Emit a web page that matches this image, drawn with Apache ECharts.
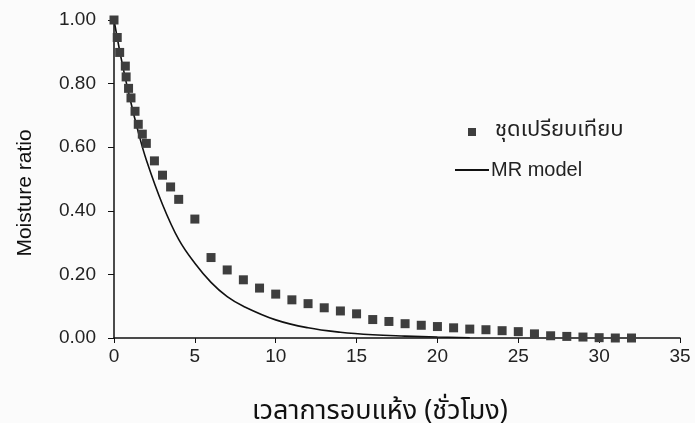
<!DOCTYPE html>
<html><head><meta charset="utf-8">
<script src="https://cdn.jsdelivr.net/npm/echarts@6/dist/echarts.min.js"></script>
<style>html,body{margin:0;padding:0;background:#fbfbfb;}#c{width:695px;height:423px;}</style>
</head><body><div id="c"></div>
<script>
// observed data (ชุดเปรียบเทียบ)
var obsTime = [0, 0.2, 0.35, 0.7, 0.75, 0.9, 1.05, 1.3, 1.5, 1.75, 2, 2.5, 3, 3.5, 4, 5, 6, 7, 8, 9, 10, 11, 12, 13, 14, 15, 16, 17, 18, 19, 20, 21, 22, 23, 24, 25, 26, 27, 28, 29, 30, 31, 32];
var obsMR   = [1.00, 0.945, 0.898, 0.855, 0.821, 0.785, 0.755, 0.713, 0.672, 0.641, 0.612, 0.557, 0.512, 0.475, 0.436, 0.374, 0.253, 0.214, 0.183, 0.157, 0.138, 0.120, 0.108, 0.095, 0.085, 0.076, 0.058, 0.052, 0.045, 0.040, 0.036, 0.032, 0.028, 0.026, 0.023, 0.020, 0.013, 0.007, 0.005, 0.003, 0.001, 0.0, 0.0];
// model curve (MR model)
var modelTime = [0, 0.5, 1, 1.5, 2, 3, 4, 5, 6, 7, 8, 10, 12, 14, 16, 18, 20, 22];
var modelMR   = [1.00, 0.865, 0.75, 0.648, 0.56, 0.42, 0.31, 0.235, 0.175, 0.13, 0.10, 0.057, 0.032, 0.018, 0.010, 0.006, 0.003, 0.001];
var yTicks = [0, 0.2, 0.4, 0.6, 0.8, 1.0];
var xTicks = [0, 5, 10, 15, 20, 25, 30, 35];

var thaiFont = '"Noto Sans Thai","Noto Sans","DejaVu Sans","Liberation Sans",sans-serif';
var latin = '"Liberation Sans",Arial,sans-serif';
var chart = echarts.init(document.getElementById('c'));
chart.setOption({
  backgroundColor: '#fbfbfb',
  animation: false,
  grid: {left: 114, right: 15, top: 20, bottom: 85, containLabel: false, outerBoundsMode: 'none'},
  legend: [
    {left: 463, top: 116, itemWidth: 8, itemHeight: 8, icon: 'rect',
     data: ['ชุดเปรียบเทียบ'],
     textStyle: {fontSize: 22, color: '#222', fontFamily: thaiFont, padding: [0,0,0,14]}},
    {left: 449, top: 155, itemWidth: 34, itemHeight: 2,
     data: ['MR model'],
     textStyle: {fontSize: 20, color: '#222', fontFamily: latin, padding: [0,0,0,-3]}}
  ],
  xAxis: {
    type: 'value', min: xTicks[0], max: xTicks[xTicks.length-1], interval: 5,
    name: 'เวลาการอบแห้ง (ชั่วโมง)', nameLocation: 'middle', nameGap: 62,
    nameTextStyle: {fontSize: 27, color: '#111', fontFamily: thaiFont, padding: [0, 34, 0, 0]},
    axisLine: {lineStyle: {color: '#111', width: 1.5}},
    axisTick: {inside: false, length: 5, lineStyle: {color: '#111'}},
    axisLabel: {fontSize: 19, color: '#222', margin: 9, fontFamily: latin},
    splitLine: {show: false}
  },
  yAxis: {
    type: 'value', min: 0, max: 1, interval: 0.2,
    name: 'Moisture ratio', nameLocation: 'middle', nameGap: 78, nameRotate: 90,
    nameTextStyle: {fontSize: 21, color: '#111', fontFamily: latin, padding: [0, 28, 0, 0]},
    axisLine: {show: true, lineStyle: {color: '#111', width: 1.5}},
    axisTick: {show: true, length: 6, lineStyle: {color: '#111'}},
    axisLabel: {fontSize: 19, color: '#222', margin: 18, fontFamily: latin,
      formatter: function(v){return v.toFixed(2);}},
    splitLine: {show: false}
  },
  series: [
    {name: 'ชุดเปรียบเทียบ', type: 'scatter', symbol: 'rect', symbolSize: 9,
     itemStyle: {color: '#3e3e3e', opacity: 1}, z: 3,
     data: obsTime.map(function(t,i){return [t, obsMR[i]];})},
    {name: 'MR model', type: 'line', smooth: 0.4, symbol: 'none', showSymbol: false,
     lineStyle: {color: '#111', width: 1.6}, itemStyle: {color: '#111'}, z: 2,
     data: modelTime.map(function(t,i){return [t, modelMR[i]];})}
  ]
});
</script></body></html>
